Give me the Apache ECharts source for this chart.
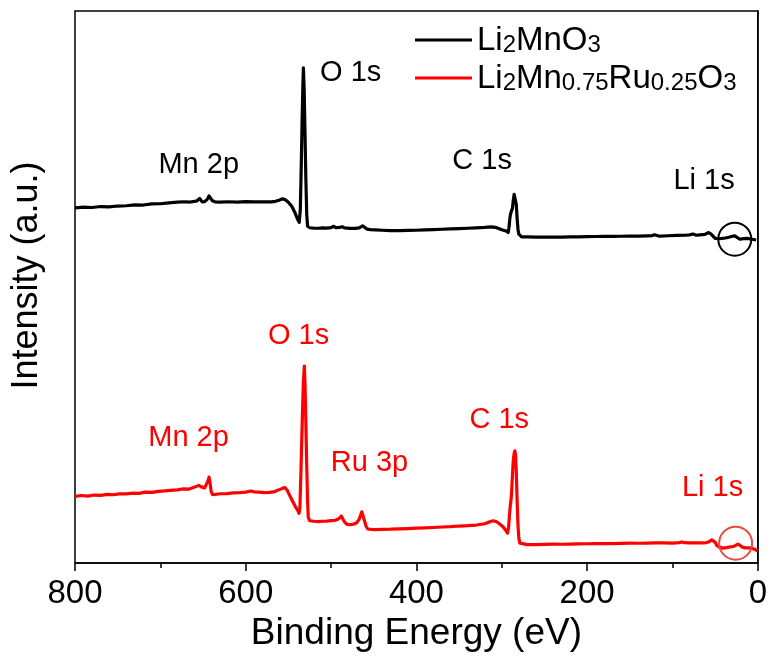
<!DOCTYPE html>
<html>
<head>
<meta charset="utf-8">
<script src="https://cdn.jsdelivr.net/npm/echarts@6/dist/echarts.min.js"></script>
<style>html,body{margin:0;padding:0;background:#fff}#c{width:770px;height:657px}</style>
</head>
<body>
<div id="c"></div>
<script>
// ---- data (binding energy in eV, intensity in arbitrary units) ----
var blackEnergy = [800,790,780,770,760,750,740,730,720,710,700,690,680,672,665,660,657,655,654,653,651,648,645,643,642,641,639,636,630,620,610,600,590,580,570,565,561,557,554,550,546,542,539,537.3,536,535,534,533,532.4,531.5,530.5,529.5,528.5,527.5,525,520,515,510,505,500,497,494,490,487,484,478,472,467,465,463,461,458,454,448,440,430,420,410,400,390,380,370,360,350,340,330,320,312,306,300,295,293.5,292.5,291.5,290.5,289.5,288.5,287.5,286.5,285.5,284.6,283.8,283,282,281,280,278.5,276.8,270,260,250,240,230,220,210,200,190,180,170,160,150,140,130,124,121,119,117,114,105,95,85,80,76,74,72,68,62,58,55,53,50,46,42,38,34,30,27,25,21,17,12,9,5,2,0];
var blackIntensity = [356.5,357.2,356.8,357.8,357.5,358.3,358.6,359.4,359.3,360.4,360.6,361.5,362.2,362.6,362.3,363.0,363.5,365.0,366.0,364.5,362.5,362.8,365.0,368.5,369.5,367.0,363.5,362.5,362.2,362.6,362.3,362.8,362.4,362.6,362.4,363.0,364.2,365.5,364.8,362.0,358.0,351.0,344.5,342.0,355,395,440,480,497,475,430,385,350,338,336.5,336.2,336.0,336.3,336.2,336.6,338.0,336.5,336.8,337.6,336.3,335.8,335.9,336.3,337.2,338.5,337.0,335.2,334.6,334.3,334.0,333.7,333.6,333.8,334.0,334.3,334.6,335.0,335.3,335.6,336.0,336.4,336.8,337.3,336.6,334.5,333.2,332.0,331.7,337,346,351,352.5,356,364,370,371.7,369,360,346,335,330,328,327.3,327.3,327.1,327.0,327.2,327.1,327.3,327.4,327.5,327.7,327.8,327.9,328.0,328.1,328.2,328.4,328.6,329.4,330.0,328.4,328.1,328.5,328.8,329.0,329.4,330.2,328.8,329.0,329.3,329.8,331.7,330.4,328.6,325.8,325.6,325.8,326.2,327.0,328.0,328.4,327.2,325.0,325.6,325.8,325.2,324.7,324.2];

var redEnergy = [800,792,785,778,770,762,755,748,740,732,725,718,710,702,695,688,680,673,667,662,659,657,655,653.6,652,650,648,646,644,643,642,640.5,639,636,630,622,615,608,600,594,590,584,578,572,566,561,557,554,551,548,545,542,539,537.5,536.5,535.5,534.5,533.5,532.5,531.3,530.5,529.5,528.5,527.5,526.7,525,520,515,510,505,500,495,491,488,486,484,481,477,473,470,467,465,464,463,461,459,457,453,448,440,430,420,410,400,390,380,370,360,350,340,330,320,314,310,306,302,298,295.5,293.2,292,291,290,289.3,288.5,287.5,286.5,285.5,284.6,283.8,283,282,281,280,278.8,277,270,260,250,240,230,220,210,200,190,180,170,160,150,140,130,120,110,100,92,89,86,80,72,65,60,57,54,52,50,48,45,41,37,33,29,26,23.4,21,18,15,13,10,7,4,2,0];
var redIntensity = [67.0,67.8,67.2,68.3,68.0,68.9,68.6,69.5,69.4,70.3,70.0,71.2,71.0,72.0,72.4,73.0,73.5,74.4,74.2,75.6,76.5,75.8,78.0,80.0,76.5,75.2,75.5,77.5,83.0,86.3,82.0,72.0,69.0,68.8,69.6,69.8,70.4,70.6,71.2,72.3,71.5,71.2,70.8,71.0,71.8,73.5,75.0,75.8,72.5,67.0,62.0,57.0,53.0,50.0,55,85,118,150,180,197.7,180,140,98,62,46,42.5,42.0,41.6,42.0,42.2,42.6,43.0,44.5,47.3,44.0,41.0,38.8,38.6,39.2,40.5,44.0,49.0,51.5,49.5,43.0,37.0,34.2,33.8,33.6,33.9,34.0,34.3,34.6,35.0,35.3,35.7,36.2,36.6,37.2,37.6,38.2,39.5,41.5,42.5,41.5,39.0,36.0,33.0,30.0,36,48,58,62,70,88,103,110,112.7,108,92,62,38,25,20,18.7,18.5,18.6,18.8,19.0,18.9,19.0,19.2,19.4,19.5,19.6,19.5,19.8,20.0,19.9,20.1,20.2,20.3,20.1,20.6,21.2,20.5,20.3,20.4,20.2,20.6,21.5,23.3,23.5,21.0,17.5,16.0,15.0,15.5,16.2,16.5,17.8,19.0,18.0,16.0,15.3,15.0,15.2,15.0,14.0,13.0,12.0];

var seriesNames = ['Li2MnO3', 'Li2Mn0.75Ru0.25O3'];
var xTicks = [800, 600, 400, 200, 0];

// peak annotations: text, energy, intensity
var blackLabelText = ['Mn 2p', 'O 1s', 'C 1s', 'Li 1s'];
var blackLabelE = [655, 477, 323, 63];
var blackLabelI = [399, 492, 403, 383];
var redLabelText = ['Mn 2p', 'O 1s', 'Ru 3p', 'C 1s', 'Li 1s'];
var redLabelE = [667, 538, 455, 303, 53];
var redLabelI = [126, 228, 100, 144, 75];

// Li 1s highlight circles (energy, intensity)
var circleE = [27, 26];
var circleI = [325, 20];

function zip(a, b) { return a.map(function (v, i) { return [v, b[i]]; }); }

var FONT = "'Liberation Sans', Arial, sans-serif";
var chart = echarts.init(document.getElementById('c'), null, {renderer: 'canvas'});

function labelSeries(texts, es, is, color) {
  return {
    type: 'scatter', silent: true, symbol: 'circle', symbolSize: 1,
    itemStyle: {color: 'rgba(0,0,0,0)', opacity: 1},
    label: {show: true, position: 'inside', formatter: function (p) { return p.name; },
      fontSize: 29, fontFamily: FONT, color: color, opacity: 1, textBorderWidth: 0},
    data: texts.map(function (t, i) { return {name: t, value: [es[i], is[i]]}; }),
    z: 5
  };
}

var legendRich = {
  Li2MnO3: '{m|Li}{s|2}{m|MnO}{s|3}',
  'Li2Mn0.75Ru0.25O3': '{m|Li}{s|2}{m|Mn}{s|0.75}{m|Ru}{s|0.25}{m|O}{s|3}'
};

chart.setOption({
  animation: false,
  backgroundColor: '#fff',
  grid: {left: 75, right: 12, top: 11, bottom: 92, show: true, borderColor: '#000', borderWidth: 1.5},
  legend: {
    data: seriesNames, orient: 'vertical', left: 415, top: 24, padding: 0, itemGap: 5,
    itemWidth: 57, itemHeight: 3, icon: 'rect',
    formatter: function (n) { return legendRich[n]; },
    textStyle: {
      rich: {
        m: {fontSize: 33, fontFamily: FONT, color: '#000', lineHeight: 34, verticalAlign: 'bottom'},
        s: {fontSize: 24, fontFamily: FONT, color: '#000', lineHeight: 34, verticalAlign: 'bottom'}
      }
    }
  },
  xAxis: {
    type: 'value', min: 0, max: 800, interval: 200, inverse: true,
    name: 'Binding Energy (eV)', nameLocation: 'middle', nameGap: 50,
    nameTextStyle: {fontSize: 37, fontFamily: FONT, color: '#000'},
    axisLine: {show: true, lineStyle: {color: '#000', width: 1.5}},
    axisTick: {show: true, length: 8, inside: false, lineStyle: {color: '#000', width: 1.5}},
    minorTick: {show: true, splitNumber: 2, length: 5, lineStyle: {color: '#000', width: 1.5}},
    axisLabel: {fontSize: 33, fontFamily: FONT, color: '#000', margin: 14,
      customValues: xTicks},
    splitLine: {show: false}
  },
  yAxis: {
    type: 'value', min: 0, max: 554,
    name: 'Intensity (a.u.)', nameLocation: 'middle', nameGap: 30,
    nameTextStyle: {fontSize: 36, fontFamily: FONT, color: '#000', padding: [0, 0, 0, 23]},
    axisLine: {show: true, lineStyle: {color: '#000', width: 1.5}},
    axisTick: {show: false}, axisLabel: {show: false}, splitLine: {show: false}
  },
  series: [
    {name: seriesNames[0], type: 'line', showSymbol: false, symbol: 'none', smooth: false,
      lineStyle: {color: '#000', width: 3.2, join: 'round'}, itemStyle: {color: '#000'},
      data: zip(blackEnergy, blackIntensity), z: 3},
    {name: seriesNames[1], type: 'line', showSymbol: false, symbol: 'none', smooth: false,
      lineStyle: {color: '#ff0000', width: 3.2, join: 'round'}, itemStyle: {color: '#ff0000'},
      data: zip(redEnergy, redIntensity), z: 3},
    labelSeries(blackLabelText, blackLabelE, blackLabelI, '#000'),
    labelSeries(redLabelText, redLabelE, redLabelI, '#ff0000'),
    {type: 'scatter', silent: true, symbol: 'circle', symbolSize: 33, z: 6,
      data: [
        {value: [circleE[0], circleI[0]], itemStyle: {color: 'rgba(0,0,0,0)', borderColor: '#000', borderWidth: 2, opacity: 1}},
        {value: [circleE[1], circleI[1]], itemStyle: {color: 'rgba(0,0,0,0)', borderColor: '#ea4848', borderWidth: 2, opacity: 1}}
      ]}
  ]
});
</script>
</body>
</html>
